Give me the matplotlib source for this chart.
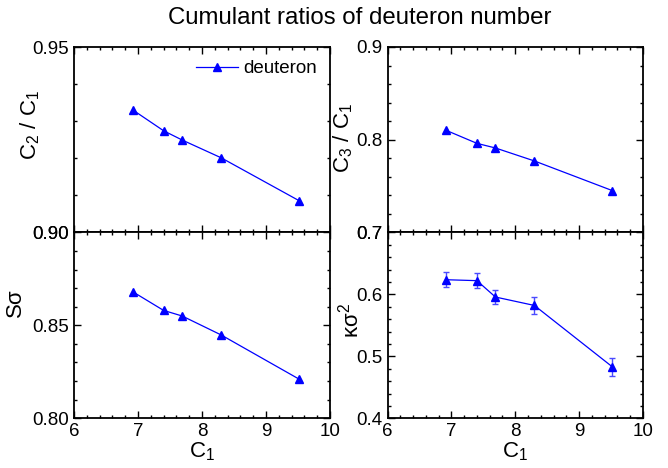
import matplotlib
matplotlib.use("Agg")
import matplotlib.pyplot as plt
from matplotlib.ticker import MultipleLocator, FormatStrFormatter

plt.rcParams['font.family'] = ['Liberation Sans', 'DejaVu Sans']
plt.rcParams['mathtext.fontset'] = 'custom'
plt.rcParams['mathtext.rm'] = 'Liberation Sans'
plt.rcParams['mathtext.it'] = 'Liberation Sans'

c1 = [6.92, 7.40, 7.69, 8.30, 9.52]
c2_c1 = [0.9330, 0.9274, 0.9249, 0.9201, 0.9085]
c3_c1 = [0.810, 0.796, 0.791, 0.777, 0.745]
s_sigma = [0.868, 0.858, 0.855, 0.8448, 0.821]
k_sigma2 = [0.6235, 0.622, 0.5956, 0.582, 0.483]
k_sigma2_err = [0.012, 0.012, 0.012, 0.013, 0.014]

fig = plt.figure(figsize=(6.68, 4.68), dpi=100)
W, H = 668, 468
def pos(x0, y0, x1, y1):
    return [x0 / W, 1 - y1 / H, (x1 - x0) / W, (y1 - y0) / H]

ax_tl = fig.add_axes(pos(74, 47, 330, 232.3))
ax_tr = fig.add_axes(pos(387.5, 47, 643, 232.3))
ax_bl = fig.add_axes(pos(74, 232.3, 330, 418.3))
ax_br = fig.add_axes(pos(387.5, 232.3, 643, 418.3))

blue = '#0000ff'
ms = 6

ax_tl.plot(c1, c2_c1, '-^', color=blue, lw=0.9, ms=ms, label='deuteron')
ax_tr.plot(c1, c3_c1, '-^', color=blue, lw=0.9, ms=ms)
ax_bl.plot(c1, s_sigma, '-^', color=blue, lw=0.9, ms=ms)
ax_br.errorbar(c1, k_sigma2, yerr=k_sigma2_err, fmt='-^', color=blue, lw=0.9, ms=ms,
               ecolor='#4a4aff', elinewidth=1.0, capsize=2, capthick=1.0)

settings = [
    (ax_tl, (0.90, 0.95), 0.05, 0.01, '%.2f', r'C$_2$ / C$_1$', -0.17, 0.58),
    (ax_tr, (0.7, 0.9), 0.1, 0.02, '%.1f', r'C$_3$ / C$_1$', -0.175, 0.51),
    (ax_bl, (0.80, 0.90), 0.05, 0.01, '%.2f', r'S$\sigma$', -0.225, 0.615),
    (ax_br, (0.4, 0.7), 0.1, 0.02, '%.1f', r'$\kappa\sigma^{2}$', -0.145, 0.53),
]
for ax, ylim, ymaj, ymin, fmt, lab, lx, ly in settings:
    ax.set_xlim(6, 10)
    ax.set_ylim(*ylim)
    ax.xaxis.set_major_locator(MultipleLocator(1))
    ax.xaxis.set_minor_locator(MultipleLocator(0.2))
    ax.yaxis.set_major_locator(MultipleLocator(ymaj))
    ax.yaxis.set_minor_locator(MultipleLocator(ymin))
    ax.yaxis.set_major_formatter(FormatStrFormatter(fmt))
    ax.tick_params(which='both', direction='in', top=True, right=True,
                   labelsize=13.5, width=1.0)
    ax.tick_params(which='major', length=5)
    ax.tick_params(which='minor', length=2.5)
    for s in ax.spines.values():
        s.set_linewidth(1.3)
    ax.set_ylabel(lab, fontsize=16, va='center')
    ax.yaxis.set_label_coords(lx, ly)

for ax in (ax_tl, ax_tr):
    ax.tick_params(labelbottom=False)
for ax in (ax_bl, ax_br):
    ax.set_xlabel(r'C$_1$', fontsize=16, labelpad=0)

ax_tl.legend(loc='upper right', frameon=False, fontsize=13.5, handlelength=2.2,
             handletextpad=0.3, borderaxespad=0.3)

fig.suptitle('Cumulant ratios of deuteron number', x=0.539, y=0.985, fontsize=17.3)

fig.savefig('out.png', dpi=100)
